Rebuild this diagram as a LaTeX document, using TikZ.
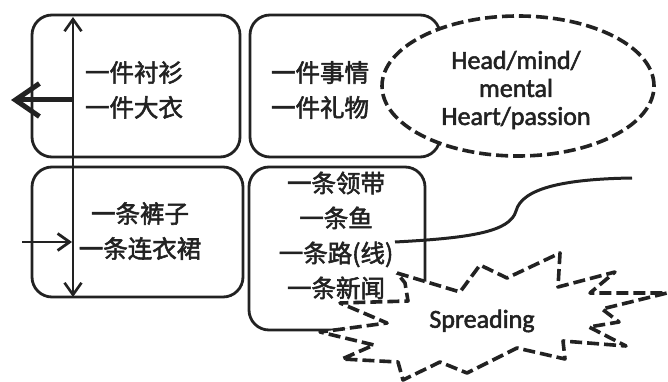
\documentclass[tikz,border=0pt]{standalone}
\usepackage{fontspec}
\setmainfont{Carlito}[UprightFeatures={FakeBold=2}]
\newfontfamily\cjk{Noto Sans CJK SC}[UprightFeatures={FakeBold=2.2}]
\usetikzlibrary{arrows.meta,shapes.geometric}
\definecolor{ink}{HTML}{222222}
\begin{document}
\begin{tikzpicture}[x=1pt,y=-1pt,
  box/.style={draw=ink, line width=2.8pt, rounded corners=20pt, inner sep=0pt},
  cjktext/.style={text=ink, align=center, font=\cjk\fontsize{24.5}{35}\selectfont},
  entext/.style={text=ink, align=center, font=\fontsize{26}{28}\selectfont},
  dashline/.style={draw=ink, line width=3.6pt, dash pattern=on 12pt off 5pt},
  thinarrow/.style={draw=ink, line width=2.8pt, -{Straight Barb[length=12pt,width=17pt]}},
]
\useasboundingbox (0,0) rectangle (668,382);
% boxes
\node[box, minimum width=208pt, minimum height=142pt] (b1) at (136,86) {};
\node[box, minimum width=190pt, minimum height=142pt] (b2) at (345,86) {};
\node[box, minimum width=211pt, minimum height=130pt] (b3) at (137.5,232) {};
\node[box, minimum width=176pt, minimum height=163pt] (b4) at (337,248.5) {};
% ellipse
\node[ellipse, dashline, fill=white, minimum width=272pt, minimum height=140pt, inner sep=0pt] (el) at (518,86) {};
\node[entext] (eltext) at (516,90) {Head/mind/\\mental\\Heart/passion};
% curve
\coordinate (c1) at (395,242);
\coordinate (c2) at (516,211);
\coordinate (c3) at (632,178);
\draw[ink, line width=3pt] (c1) .. controls (470,238) and (510,232) .. (c2) .. controls (522,188) and (565,179) .. (c3);
% starburst
\draw[dashline, fill=white, line join=round]
 (397,273) -- (460,292) -- (480,265) -- (507,278) -- (560,253) -- (558,287)
 -- (615,272) -- (590,293) -- (667,293) -- (602,309) -- (619,322) -- (589,327)
 -- (626,346) -- (563,341) -- (565,359) -- (517,348) -- (467,373) -- (440,362)
 -- (403,380) -- (398,362) -- (342,359) -- (374,345) -- (320,332) -- (387,323)
 -- (340,303) -- (408,301) -- (405,283) -- cycle;
\node[entext] (spread) at (482,321) {Spreading};
% texts
\node[cjktext] (t1) at (134,90) {一件衬衫\\一件大衣};
\node[cjktext] (t2) at (320,90) {一件事情\\一件礼物};
\node[cjktext] (t3) at (140,231) {一条裤子\\一条连衣裙};
\node[cjktext] (t4) at (336,235.5) {一条领带\\一条鱼\\一条路(线)\\一条新闻};
% arrows
\coordinate (vtop) at (73,17);
\coordinate (vbot) at (73,297);
\coordinate (vmid) at (73,100);
\coordinate (lefttip) at (11,100);
\coordinate (rstart) at (22,242);
\coordinate (rtip) at (72,242);
\draw[ink, line width=2.6pt, {Straight Barb[length=12pt,width=17pt]}-{Straight Barb[length=12pt,width=17pt]}] (vtop) -- (vbot);
\draw[ink, line width=5pt, -{Straight Barb[length=24pt,width=33pt]}] (vmid) -- (lefttip);
\draw[thinarrow] (rstart) -- (rtip);
\end{tikzpicture}
\end{document}
